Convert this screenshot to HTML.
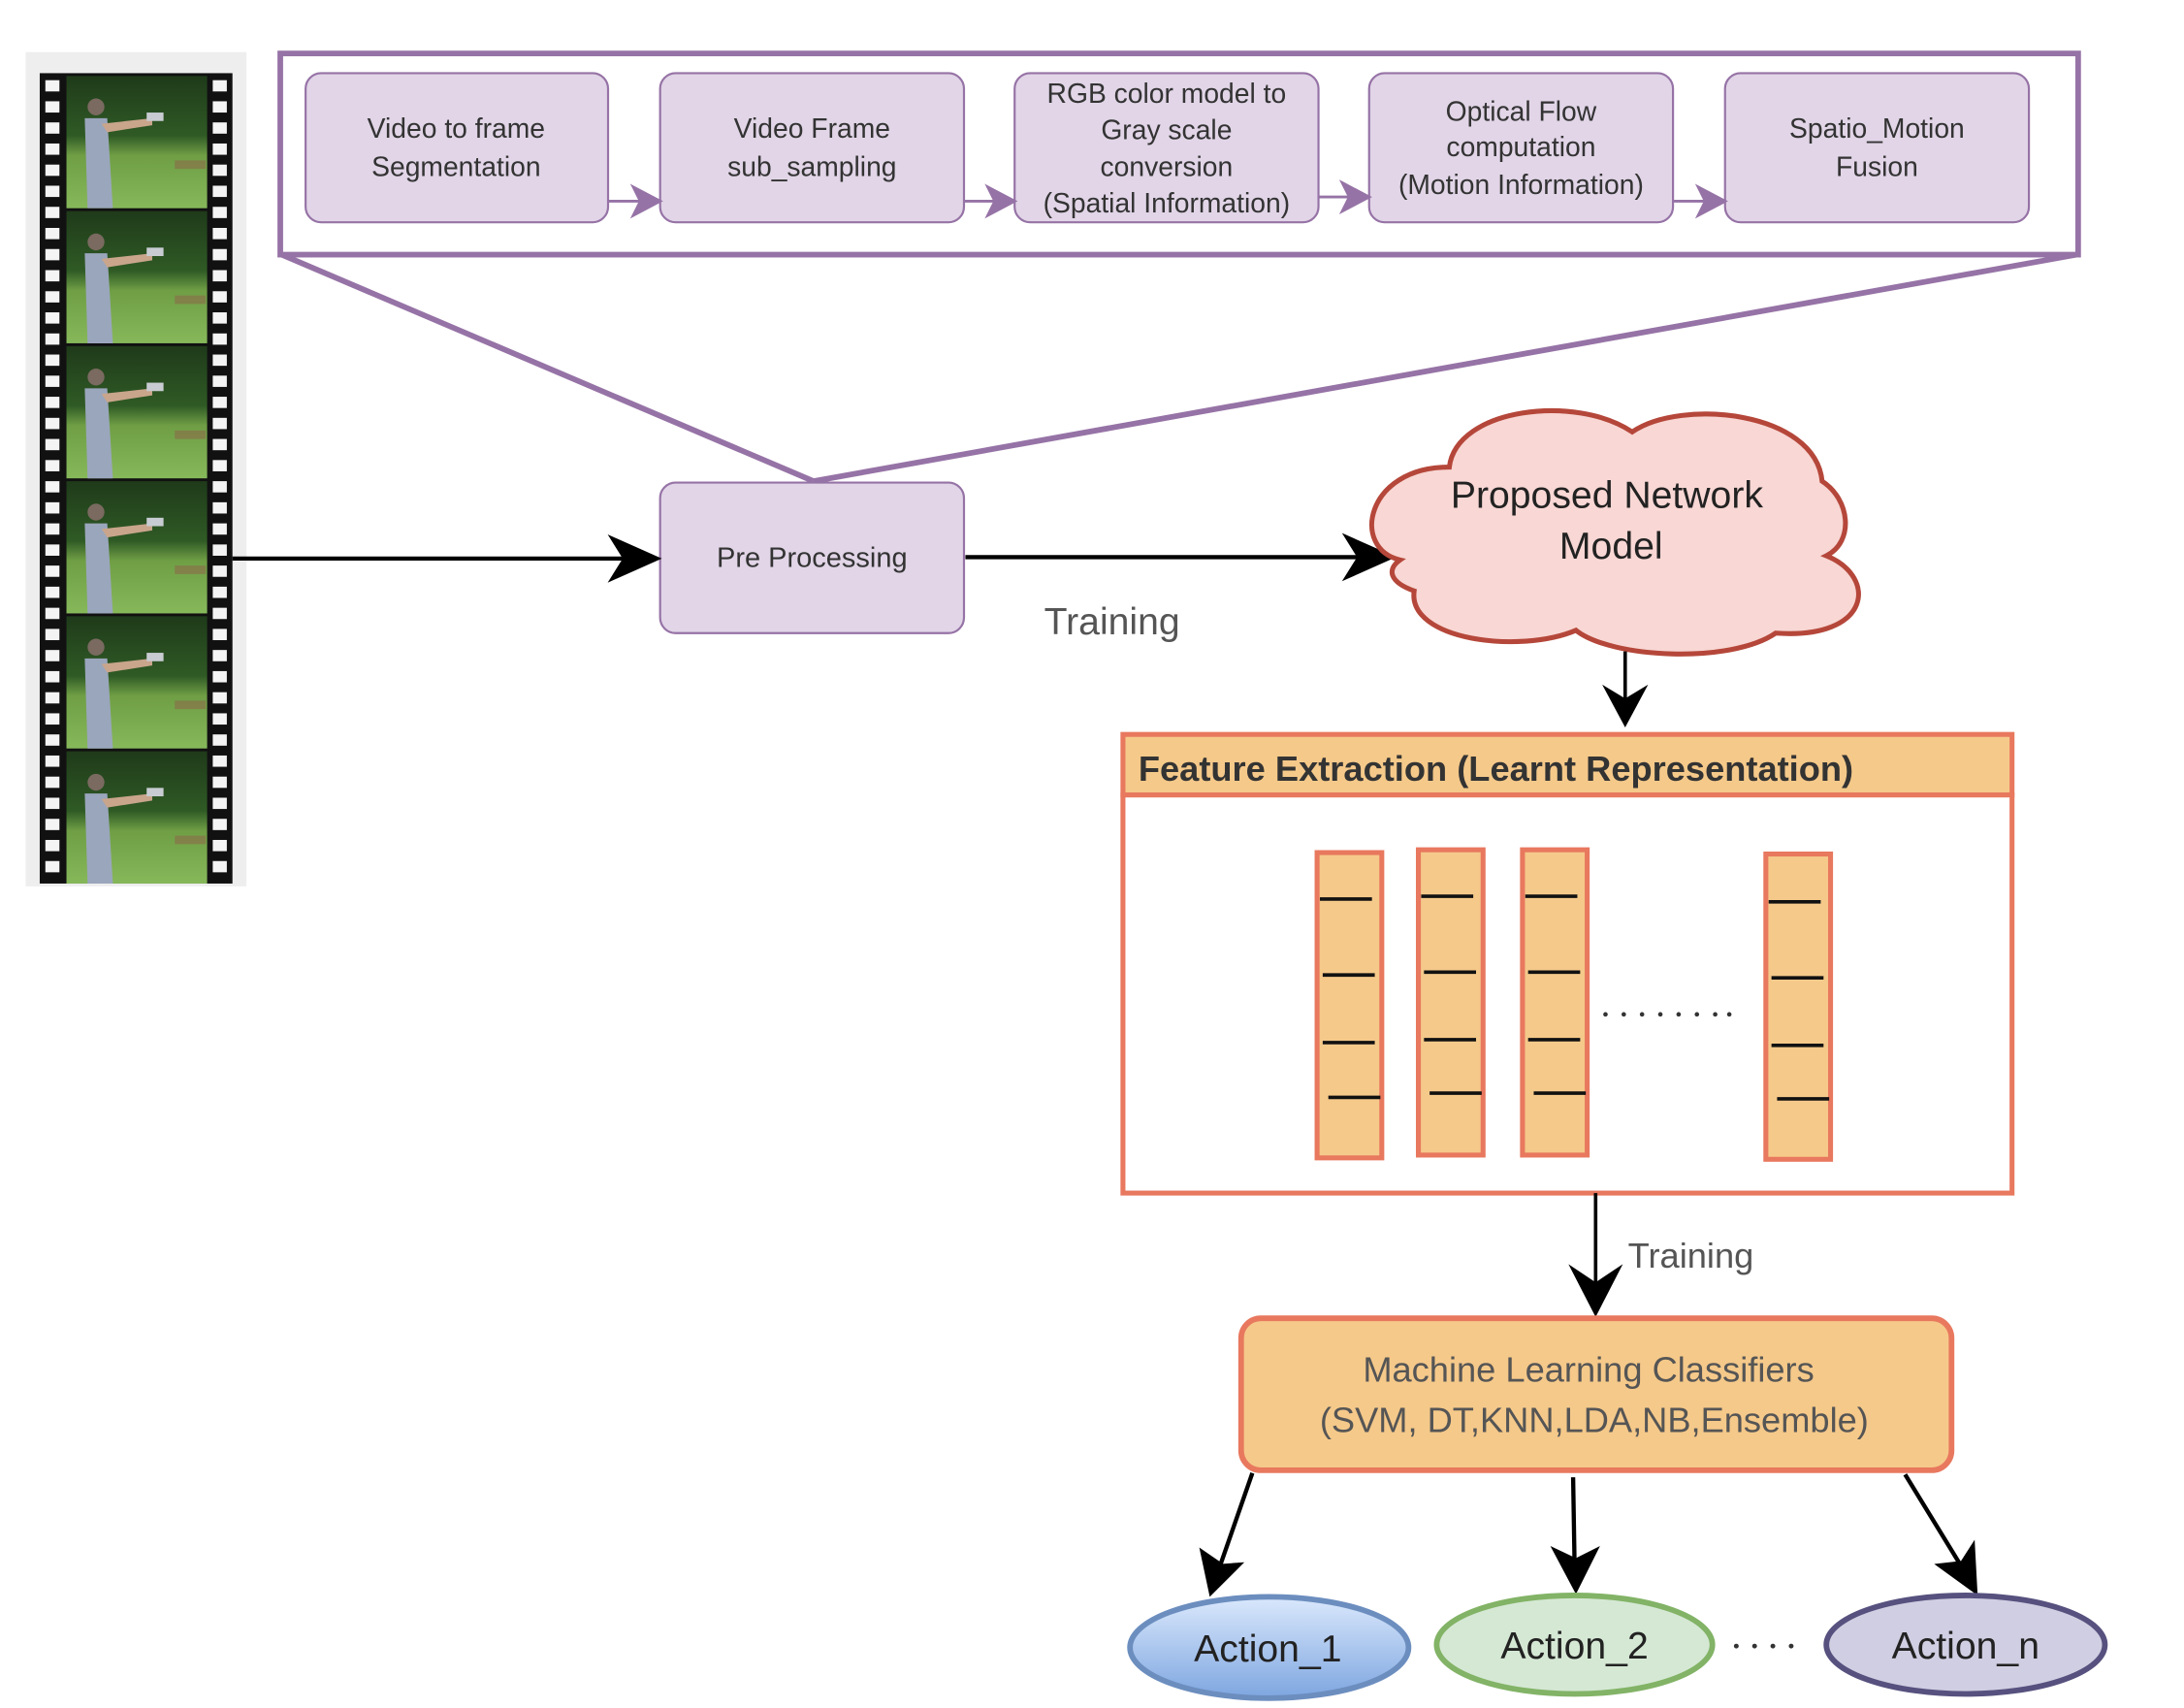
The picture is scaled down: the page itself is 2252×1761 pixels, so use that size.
<!DOCTYPE html>
<html><head><meta charset="utf-8"><style>
html,body{margin:0;padding:0;background:#fff;}
svg{display:block;}
text{font-family:"Liberation Sans",Arial,sans-serif;}
</style></head><body>
<svg width="2252" height="1761" viewBox="0 0 1552 1214" xmlns="http://www.w3.org/2000/svg">
<defs>
  <linearGradient id="frameG" x1="0" y1="0" x2="0" y2="1">
    <stop offset="0" stop-color="#1f3a1a"/>
    <stop offset="0.45" stop-color="#2f5a25"/>
    <stop offset="0.6" stop-color="#6f9e45"/>
    <stop offset="1" stop-color="#86b85a"/>
  </linearGradient>
  <linearGradient id="blueG" x1="0" y1="0" x2="0" y2="1">
    <stop offset="0" stop-color="#dae8fc"/>
    <stop offset="1" stop-color="#7ea6e0"/>
  </linearGradient>
  <marker id="ah" viewBox="0 0 10 10" refX="9" refY="5" markerWidth="8" markerHeight="8" markerUnits="userSpaceOnUse" orient="auto">
  </marker>
  <g id="frame">
    <rect x="47" y="0" width="100" height="94" fill="url(#frameG)"/>
    <circle cx="68" cy="22" r="6" fill="#7a6a60"/>
    <path d="M60,30 L76,30 L80,94 L62,94 Z" fill="#9aa6bc"/>
    <path d="M72,34 L108,30 L108,35 L76,40 Z" fill="#c9a58c"/>
    <rect x="104" y="26" width="12" height="6" fill="#c8ccd2"/>
    <path d="M124,60 L146,60 L146,66 L124,66 Z" fill="#8a6a4a" opacity="0.6"/>
  </g>
  <pattern id="holes" x="0" y="52" width="15" height="15" patternUnits="userSpaceOnUse">
    <rect x="0" y="3" width="200" height="9" fill="none"/>
  </pattern>
</defs>

<!-- film strip -->
<rect x="18" y="37" width="157" height="593" fill="#eeeeee"/>
<rect x="28" y="52" width="137" height="576" fill="#111"/>
<g>
  <use href="#frame" y="54"/>
  <use href="#frame" y="150"/>
  <use href="#frame" y="246"/>
  <use href="#frame" y="342"/>
  <use href="#frame" y="438"/>
  <use href="#frame" y="534"/>
</g>
<g fill="#f4f4f4" id="holecol">
  <rect x="32" y="57" width="10" height="8"/><rect x="32" y="72" width="10" height="8"/><rect x="32" y="87" width="10" height="8"/><rect x="32" y="102" width="10" height="8"/><rect x="32" y="117" width="10" height="8"/><rect x="32" y="132" width="10" height="8"/><rect x="32" y="147" width="10" height="8"/><rect x="32" y="162" width="10" height="8"/><rect x="32" y="177" width="10" height="8"/><rect x="32" y="192" width="10" height="8"/><rect x="32" y="207" width="10" height="8"/><rect x="32" y="222" width="10" height="8"/><rect x="32" y="237" width="10" height="8"/><rect x="32" y="252" width="10" height="8"/><rect x="32" y="267" width="10" height="8"/><rect x="32" y="282" width="10" height="8"/><rect x="32" y="297" width="10" height="8"/><rect x="32" y="312" width="10" height="8"/><rect x="32" y="327" width="10" height="8"/><rect x="32" y="342" width="10" height="8"/><rect x="32" y="357" width="10" height="8"/><rect x="32" y="372" width="10" height="8"/><rect x="32" y="387" width="10" height="8"/><rect x="32" y="402" width="10" height="8"/><rect x="32" y="417" width="10" height="8"/><rect x="32" y="432" width="10" height="8"/><rect x="32" y="447" width="10" height="8"/><rect x="32" y="462" width="10" height="8"/><rect x="32" y="477" width="10" height="8"/><rect x="32" y="492" width="10" height="8"/><rect x="32" y="507" width="10" height="8"/><rect x="32" y="522" width="10" height="8"/><rect x="32" y="537" width="10" height="8"/><rect x="32" y="552" width="10" height="8"/><rect x="32" y="567" width="10" height="8"/><rect x="32" y="582" width="10" height="8"/><rect x="32" y="597" width="10" height="8"/><rect x="32" y="612" width="10" height="8"/>
</g>
<use href="#holecol" x="119"/>

<!-- top pipeline box -->
<rect x="199" y="38" width="1278" height="143" fill="#fff" stroke="#9673a6" stroke-width="4"/>
<g fill="#e1d5e7" stroke="#9673a6" stroke-width="1.5">
  <rect x="217" y="52" width="215" height="106" rx="11"/>
  <rect x="469" y="52" width="216" height="106" rx="11"/>
  <rect x="721" y="52" width="216" height="106" rx="11"/>
  <rect x="973" y="52" width="216" height="106" rx="11"/>
  <rect x="1226" y="52" width="216" height="106" rx="11"/>
</g>
<g stroke="#9673a6" stroke-width="2" fill="#9673a6">
  <line x1="432" y1="143" x2="455" y2="143"/><path d="M450,133 L469,143 L450,153 L455,143 Z"/>
  <line x1="685" y1="143" x2="707" y2="143"/><path d="M702,133 L721,143 L702,153 L707,143 Z"/>
  <line x1="937" y1="140" x2="959" y2="140"/><path d="M954,130 L973,140 L954,150 L959,140 Z"/>
  <line x1="1189" y1="143" x2="1212" y2="143"/><path d="M1207,133 L1226,143 L1207,153 L1212,143 Z"/>
</g>
<g font-size="19.5" fill="#333" text-anchor="middle">
  <text x="324" y="98">Video to frame</text><text x="324" y="125">Segmentation</text>
  <text x="577" y="98">Video Frame</text><text x="577" y="125">sub_sampling</text>
  <text x="829" y="73">RGB color model to</text><text x="829" y="99">Gray scale</text><text x="829" y="125">conversion</text><text x="829" y="151">(Spatial Information)</text>
  <text x="1081" y="86">Optical Flow</text><text x="1081" y="111">computation</text><text x="1081" y="138">(Motion Information)</text>
  <text x="1334" y="98">Spatio_Motion</text><text x="1334" y="125">Fusion</text>
</g>

<!-- funnel -->
<g stroke="#9673a6" stroke-width="4" fill="none">
  <line x1="200" y1="181" x2="578" y2="342"/>
  <line x1="1476" y1="181" x2="578" y2="342"/>
</g>

<!-- pre processing -->
<rect x="469" y="343" width="216" height="107" rx="11" fill="#e1d5e7" stroke="#9673a6" stroke-width="1.5"/>
<text x="577" y="403" font-size="20" fill="#333" text-anchor="middle">Pre Processing</text>

<!-- arrows -->
<g stroke="#000" stroke-width="3" fill="#000">
  <line x1="165" y1="397" x2="450" y2="397"/><path d="M433,381 L469,397 L433,413 L443,397 Z" stroke-width="1"/>
  <line x1="686" y1="396" x2="970" y2="396"/><path d="M955,380 L991,396 L955,412 L965,396 Z" stroke-width="1"/>
</g>
<text x="742" y="451" font-size="27" fill="#555">Training</text>

<!-- cloud -->
<path d="M995,398 C960,390 970,332 1030,332 C1035,290 1120,280 1160,307 C1195,283 1290,292 1295,342 C1315,355 1318,385 1298,395 C1335,410 1330,455 1262,450 C1230,472 1145,468 1120,448 C1080,465 1000,455 1005,420 C988,414 985,405 995,398 Z" fill="#f8d7d4" stroke="#b5473a" stroke-width="3.5"/>
<g font-size="27" fill="#222" text-anchor="middle">
  <text x="1142" y="361">Proposed Network</text><text x="1145" y="397">Model</text>
</g>
<g stroke="#000" stroke-width="2.5" fill="#000">
  <line x1="1155" y1="463" x2="1155" y2="500"/><path d="M1140,488 L1155,516 L1170,488 L1155,497 Z" stroke-width="1"/>
</g>

<!-- feature extraction -->
<rect x="798" y="565" width="632" height="283" fill="#fff" stroke="#e8785e" stroke-width="3.5"/>
<rect x="798" y="522" width="632" height="43" fill="#f5c98a" stroke="#e8785e" stroke-width="3.5"/>
<text x="809" y="555" font-size="25" font-weight="bold" fill="#333">Feature Extraction (Learnt Representation)</text>
<g fill="#f5c98a" stroke="#e8785e" stroke-width="3.5">
  <rect x="936" y="606" width="46" height="217"/>
  <rect x="1008" y="604" width="46" height="217"/>
  <rect x="1082" y="604" width="46" height="217"/>
  <rect x="1255" y="607" width="46" height="217"/>
</g>
<g stroke="#111" stroke-width="2.5">
  <line x1="938" y1="639" x2="975" y2="639"/><line x1="940" y1="693" x2="977" y2="693"/><line x1="940" y1="741" x2="977" y2="741"/><line x1="944" y1="780" x2="981" y2="780"/>
  <line x1="1010" y1="637" x2="1047" y2="637"/><line x1="1012" y1="691" x2="1049" y2="691"/><line x1="1012" y1="739" x2="1049" y2="739"/><line x1="1016" y1="777" x2="1053" y2="777"/>
  <line x1="1084" y1="637" x2="1121" y2="637"/><line x1="1086" y1="691" x2="1123" y2="691"/><line x1="1086" y1="739" x2="1123" y2="739"/><line x1="1090" y1="777" x2="1127" y2="777"/>
  <line x1="1257" y1="641" x2="1294" y2="641"/><line x1="1259" y1="695" x2="1296" y2="695"/><line x1="1259" y1="743" x2="1296" y2="743"/><line x1="1263" y1="781" x2="1300" y2="781"/>
</g>
<g fill="#333">
  <circle cx="1141" cy="721" r="1.6"/><circle cx="1154" cy="721" r="1.6"/><circle cx="1167" cy="721" r="1.6"/><circle cx="1180" cy="721" r="1.6"/><circle cx="1193" cy="721" r="1.6"/><circle cx="1206" cy="721" r="1.6"/><circle cx="1219" cy="721" r="1.6"/><circle cx="1229" cy="721" r="1.6"/>
</g>

<!-- arrow to ML -->
<g stroke="#000" stroke-width="2.5" fill="#000">
  <line x1="1134" y1="848" x2="1134" y2="915"/><path d="M1116,900 L1134,935 L1152,900 L1134,912 Z" stroke-width="1"/>
</g>
<text x="1157" y="901" font-size="25" fill="#555">Training</text>

<!-- ML box -->
<rect x="882" y="937" width="505" height="108" rx="14" fill="#f5c98a" stroke="#e8785e" stroke-width="4"/>
<g font-size="25" fill="#555" text-anchor="middle">
  <text x="1129" y="982">Machine Learning Classifiers</text>
  <text x="1133" y="1018">(SVM, DT,KNN,LDA,NB,Ensemble)</text>
</g>

<!-- arrows to actions -->
<g stroke="#000" stroke-width="3" fill="#000">
  <line x1="890" y1="1047" x2="867" y2="1113"/><path d="M853,1101 L860,1134 L883,1111 L869,1112 Z" stroke-width="1"/>
  <line x1="1118" y1="1050" x2="1119" y2="1110"/><path d="M1103,1100 L1120,1132 L1136,1100 L1120,1108 Z" stroke-width="1"/>
  <line x1="1354" y1="1048" x2="1395" y2="1115"/><path d="M1376,1112 L1405,1133 L1403,1096 L1394,1110 Z" stroke-width="1"/>
</g>

<!-- actions -->
<ellipse cx="902" cy="1171" rx="99" ry="36" fill="url(#blueG)" stroke="#6c8ebf" stroke-width="4"/>
<ellipse cx="1119" cy="1169" rx="98" ry="35" fill="#d5e8d4" stroke="#82b366" stroke-width="4"/>
<ellipse cx="1397" cy="1169" rx="99" ry="35" fill="#d0cee2" stroke="#56517e" stroke-width="4"/>
<g font-size="27" fill="#222" text-anchor="middle">
  <text x="901" y="1181">Action_1</text>
  <text x="1119" y="1179">Action_2</text>
  <text x="1397" y="1179">Action_n</text>
</g>
<g fill="#333">
  <circle cx="1234" cy="1170" r="1.7"/><circle cx="1247" cy="1170" r="1.7"/><circle cx="1260" cy="1170" r="1.7"/><circle cx="1273" cy="1170" r="1.7"/>
</g>
</svg>
</body></html>
